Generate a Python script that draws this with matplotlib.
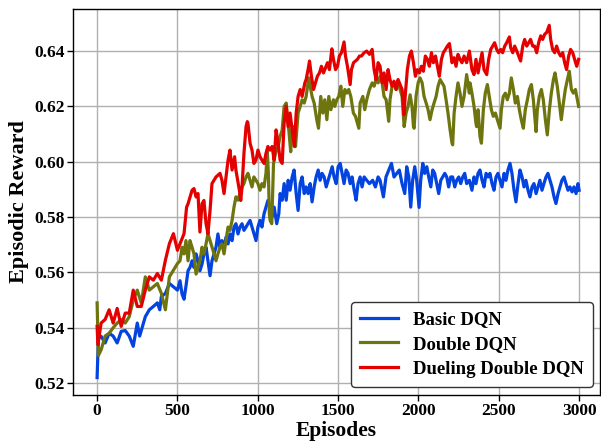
import matplotlib
matplotlib.use("Agg")
import matplotlib.pyplot as plt

# (episode, smoothed episodic reward) for each agent
basic_dqn = [
    (0, .5220), (8, .5360), (25, .5369), (50, .5345), (75, .5380), (100, .5370), (125, .5345),
    (150, .5387), (175, .5390), (200, .5370), (225, .5333), (250, .5417), (265, .5370), (275, .5390),
    (300, .5440), (325, .5465), (350, .5477), (375, .5490), (390, .5465), (400, .5513), (425, .5524),
    (450, .5560), (475, .5548), (500, .5536),
    (516, .5570), (529, .5521), (541, .5503), (553, .5550), (566, .5606), (578, .5618), (591, .5642),
    (603, .5618), (616, .5667), (628, .5642), (640, .5606), (653, .5630), (665, .5667), (678, .5691),
    (690, .5642), (703, .5588), (715, .5642), (728, .5667), (740, .5691), (752, .5739), (765, .5691),
    (777, .5715), (790, .5691), (802, .5727), (815, .5703), (827, .5739), (840, .5715), (852, .5764),
    (864, .5776), (877, .5739), (889, .5764), (902, .5776), (914, .5752), (927, .5764), (939, .5776),
    (952, .5788), (964, .5764), (976, .5739), (989, .5715), (1001, .5764), (1014, .5788), (1026, .5764),
    (1039, .5812), (1051, .5836), (1063, .5860),
    (1077, .5836), (1089, .5800), (1102, .5836), (1118, .5776), (1131, .5812), (1139, .5885),
    (1152, .5861), (1164, .5921), (1177, .5861), (1189, .5933), (1201, .5897), (1214, .5945),
    (1226, .5970), (1239, .5885), (1251, .5824), (1264, .5921), (1276, .5945), (1289, .5885),
    (1301, .5909), (1313, .5885), (1326, .5921), (1338, .5855), (1351, .5909), (1363, .5945),
    (1376, .5970), (1388, .5933), (1400, .5958), (1413, .5945), (1426, .5909), (1438, .5933),
    (1450, .5958), (1463, .5982), (1475, .5945), (1488, .5921), (1500, .5982), (1513, .5994),
    (1525, .5958), (1537, .5921), (1550, .5970), (1562, .5958), (1575, .5921), (1587, .5945),
    (1600, .5897), (1612, .5861), (1624, .5921), (1637, .5945), (1649, .5909), (1662, .5945),
    (1678, .5933), (1695, .5921),
    (1715, .5933), (1732, .5909), (1749, .5945), (1761, .5933), (1782, .5873), (1798, .5945),
    (1815, .5970), (1832, .5994), (1848, .5945), (1865, .5958), (1881, .5970), (1898, .5921),
    (1915, .5885), (1927, .5982), (1940, .5945), (1952, .5836), (1964, .5933), (1977, .5982),
    (1989, .5933), (2004, .5835), (2014, .5933), (2027, .5994), (2039, .5958), (2052, .5982),
    (2064, .5945), (2077, .5909), (2089, .5970), (2101, .5958), (2114, .5921), (2126, .5885),
    (2139, .5933), (2151, .5945), (2164, .5958), (2176, .5945), (2188, .5909), (2201, .5945),
    (2213, .5945), (2226, .5909), (2238, .5933), (2251, .5945), (2263, .5921), (2276, .5945),
    (2288, .5958), (2300, .5921), (2317, .5933),
    (2333, .5897), (2346, .5945), (2358, .5921), (2371, .5958), (2383, .5970), (2396, .5933),
    (2408, .5909), (2421, .5958), (2433, .5945), (2445, .5958), (2458, .5921), (2470, .5897),
    (2483, .5945), (2495, .5958), (2508, .5933), (2520, .5909), (2533, .5958), (2545, .5933),
    (2557, .5970), (2570, .5994), (2582, .5958), (2595, .5897), (2607, .5855), (2620, .5921),
    (2632, .5970), (2645, .5945), (2657, .5909), (2669, .5933), (2682, .5897), (2694, .5873),
    (2707, .5909), (2719, .5921), (2732, .5885), (2744, .5909), (2756, .5933), (2769, .5897),
    (2781, .5921), (2794, .5945), (2806, .5958), (2819, .5933), (2831, .5909), (2844, .5873),
    (2856, .5849), (2869, .5885), (2881, .5909), (2893, .5933), (2906, .5945), (2918, .5921),
    (2931, .5897), (2943, .5909), (2956, .5891), (2968, .5909), (2981, .5885), (2993, .5921),
    (3000, .5897),
]

double_dqn = [
    (0, .5490), (8, .5300), (25, .5320), (50, .5370), (75, .5380), (100, .5400), (125, .5417),
    (150, .5430), (175, .5417), (200, .5440), (225, .5500), (250, .5536), (275, .5489), (300, .5584),
    (325, .5536), (350, .5548), (375, .5560), (400, .5524), (425, .5465), (450, .5584), (475, .5608),
    (500, .5632),
    (516, .5642), (529, .5691), (541, .5667), (553, .5715), (566, .5642), (578, .5715), (591, .5691),
    (603, .5667), (616, .5594), (628, .5618), (640, .5642), (653, .5691), (665, .5667), (678, .5703),
    (690, .5740), (703, .5715), (715, .5691), (728, .5667), (740, .5642), (752, .5667), (765, .5691),
    (777, .5703), (790, .5667), (802, .5715), (815, .5764), (827, .5752), (840, .5788), (852, .5836),
    (864, .5873), (877, .5861), (889, .5885), (902, .5909), (914, .5921), (927, .5945), (939, .5958),
    (952, .5933), (964, .5909), (976, .5945), (989, .5933), (1001, .5921), (1014, .5897), (1026, .5921),
    (1039, .5909), (1051, .5958), (1059, .6042), (1066, .5958), (1072, .5812),
    (1077, .5788), (1087, .5776), (1098, .5994), (1110, .6030), (1127, .6055), (1139, .6091),
    (1152, .6115), (1164, .6200), (1177, .6212), (1193, .6115), (1205, .6036), (1214, .6127),
    (1226, .6127), (1235, .6055), (1251, .6176), (1264, .6200), (1276, .6224), (1289, .6212),
    (1301, .6236), (1317, .6303), (1326, .6273), (1338, .6236), (1351, .6212), (1367, .6152),
    (1378, .6121), (1392, .6236), (1405, .6176), (1417, .6224), (1430, .6152), (1442, .6236),
    (1455, .6188), (1471, .6224), (1479, .6200), (1492, .6224), (1504, .6236), (1517, .6273),
    (1529, .6200), (1542, .6261), (1554, .6248), (1566, .6261), (1579, .6236), (1595, .6176),
    (1608, .6164), (1620, .6140), (1629, .6121), (1637, .6212), (1654, .6236), (1666, .6188),
    (1678, .6224), (1695, .6261),
    (1712, .6285), (1724, .6273), (1736, .6297), (1749, .6285), (1761, .6309), (1774, .6285),
    (1786, .6236), (1799, .6224), (1815, .6146), (1823, .6224), (1836, .6273), (1848, .6285),
    (1861, .6261), (1873, .6285), (1886, .6261), (1898, .6236), (1911, .6127), (1923, .6176),
    (1935, .6200), (1948, .6242), (1960, .6200), (1969, .6127), (1973, .6121), (1985, .6236),
    (1998, .6285), (2010, .6303), (2023, .6285), (2035, .6236), (2048, .6212), (2060, .6188),
    (2072, .6152), (2085, .6188), (2097, .6212), (2110, .6236), (2122, .6273), (2135, .6297),
    (2147, .6285), (2159, .6273), (2172, .6224), (2184, .6176), (2197, .6115), (2209, .6067),
    (2213, .6061), (2222, .6176), (2234, .6236), (2246, .6285), (2259, .6248), (2271, .6200),
    (2284, .6236), (2300, .6315), (2317, .6248),
    (2321, .6285), (2333, .6248), (2346, .6200), (2358, .6139), (2362, .6127), (2371, .6188),
    (2383, .6091), (2392, .6067), (2404, .6188), (2416, .6248), (2429, .6279), (2441, .6236),
    (2454, .6188), (2466, .6164), (2479, .6176), (2491, .6152), (2508, .6121), (2516, .6188),
    (2528, .6236), (2541, .6248), (2553, .6224), (2566, .6248), (2578, .6303), (2591, .6261),
    (2603, .6212), (2616, .6236), (2628, .6188), (2640, .6152), (2653, .6121), (2665, .6188),
    (2678, .6224), (2690, .6261), (2703, .6279), (2715, .6224), (2732, .6109), (2740, .6188),
    (2752, .6236), (2765, .6261), (2777, .6224), (2790, .6152), (2802, .6097), (2815, .6188),
    (2827, .6248), (2840, .6297), (2850, .6321), (2864, .6273), (2877, .6212), (2889, .6152),
    (2902, .6212), (2914, .6261), (2927, .6297), (2939, .6327), (2952, .6261), (2964, .6248),
    (2977, .6261), (2989, .6224), (2997, .6200),
]

dueling_double_dqn = [
    (0, .5405), (5, .5339), (25, .5417), (50, .5430), (75, .5465), (100, .5417), (125, .5470),
    (150, .5405), (175, .5453), (200, .5453), (225, .5536), (250, .5477), (275, .5477), (300, .5536),
    (325, .5584), (350, .5572), (375, .5596), (400, .5572), (425, .5644), (450, .5704), (475, .5740),
    (500, .5680),
    (516, .5703), (541, .5740), (557, .5836), (566, .5848), (591, .5897), (603, .5903), (616, .5873),
    (628, .5885), (640, .5746), (653, .5848), (665, .5860), (678, .5776), (690, .5740), (703, .5824),
    (715, .5921), (740, .5945), (765, .5958), (777, .5933), (790, .5885), (815, .6006), (827, .6042),
    (840, .5970), (856, .6018), (864, .5970), (889, .5885), (894, .5860), (902, .5909), (914, .6030),
    (927, .6127), (935, .6145), (939, .6139), (952, .6067), (964, .6042), (976, .5994), (989, .6006),
    (1001, .6042), (1014, .6018), (1026, .6006), (1039, .5994), (1051, .6030), (1063, .6055),
    (1077, .6042), (1089, .6055), (1102, .6006), (1114, .6115), (1127, .6067), (1139, .6006),
    (1152, .5994), (1164, .6139), (1177, .6200), (1189, .6127), (1201, .6176), (1214, .6115),
    (1228, .6055), (1239, .6176), (1251, .6236), (1264, .6261), (1276, .6236), (1293, .6285),
    (1301, .6297), (1313, .6333), (1322, .6364), (1334, .6309), (1347, .6261), (1359, .6285),
    (1371, .6309), (1384, .6321), (1396, .6345), (1409, .6321), (1421, .6339), (1434, .6358),
    (1446, .6333), (1461, .6408), (1471, .6370), (1484, .6333), (1496, .6345), (1508, .6382),
    (1521, .6394), (1537, .6433), (1546, .6382), (1558, .6345), (1575, .6279), (1583, .6333),
    (1596, .6358), (1608, .6364), (1620, .6370), (1633, .6382), (1645, .6382), (1662, .6394),
    (1678, .6400), (1695, .6388),
    (1712, .6406), (1724, .6333), (1736, .6297), (1749, .6358), (1761, .6345), (1774, .6285),
    (1786, .6321), (1799, .6261), (1811, .6333), (1823, .6297), (1836, .6273), (1848, .6291),
    (1861, .6261), (1873, .6297), (1886, .6279), (1898, .6261), (1910, .6170), (1919, .6249),
    (1931, .6333), (1944, .6382), (1956, .6400), (1969, .6358), (1981, .6309), (1993, .6333),
    (2006, .6321), (2018, .6345), (2031, .6327), (2043, .6382), (2056, .6370), (2068, .6345),
    (2081, .6394), (2093, .6358), (2106, .6382), (2118, .6345), (2130, .6309), (2143, .6370),
    (2155, .6394), (2168, .6406), (2180, .6418), (2193, .6427), (2209, .6358), (2222, .6376),
    (2234, .6345), (2246, .6388), (2259, .6370), (2271, .6358), (2284, .6382), (2300, .6358),
    (2317, .6400),
    (2333, .6333), (2346, .6315), (2358, .6370), (2371, .6321), (2383, .6358), (2396, .6394),
    (2408, .6333), (2425, .6315), (2437, .6370), (2450, .6406), (2462, .6418), (2474, .6430),
    (2487, .6406), (2499, .6394), (2512, .6406), (2524, .6394), (2537, .6418), (2549, .6430),
    (2566, .6451), (2574, .6412), (2587, .6394), (2599, .6418), (2612, .6400), (2624, .6382),
    (2636, .6364), (2649, .6418), (2661, .6442), (2674, .6418), (2686, .6430), (2698, .6442),
    (2711, .6418), (2723, .6418), (2736, .6394), (2748, .6430), (2761, .6455), (2773, .6442),
    (2786, .6461), (2798, .6467), (2814, .6493), (2823, .6442), (2835, .6406), (2848, .6394),
    (2860, .6418), (2873, .6394), (2885, .6382), (2898, .6394), (2910, .6358), (2922, .6333),
    (2935, .6382), (2947, .6406), (2960, .6394), (2972, .6370), (2985, .6345), (2997, .6370),
]

series_names = ["Basic DQN", "Double DQN", "Dueling Double DQN"]
series_colors = ["#0343df", "#6e750e", "#e50000"]
x_ticks = [0, 500, 1000, 1500, 2000, 2500, 3000]
y_ticks = [0.52, 0.54, 0.56, 0.58, 0.60, 0.62, 0.64]

plt.rcParams["font.family"] = ["Liberation Serif", "DejaVu Serif"]
plt.rcParams["font.weight"] = "bold"

fig = plt.figure(figsize=(6.01, 4.44), dpi=100)
ax = fig.add_axes([73 / 601, 49 / 444, 527 / 601, 386 / 444])

for data, name, color in zip([basic_dqn, double_dqn, dueling_double_dqn], series_names, series_colors):
    eps = [p[0] for p in data]
    vals = [p[1] for p in data]
    ax.plot(eps, vals, color=color, lw=2.3, label=name, solid_joinstyle="round")

ax.set_xlim(-150, 3130)
ax.set_ylim(0.5157, 0.6552)
ax.set_xticks(x_ticks)
ax.set_xticklabels([str(t) for t in x_ticks])
ax.set_yticks(y_ticks)
ax.set_yticklabels([f"{t:.2f}" for t in y_ticks])
ax.tick_params(axis="both", labelsize=12.5, direction="out", length=4, width=1, pad=2)
for lab in ax.get_xticklabels() + ax.get_yticklabels():
    lab.set_fontweight("bold")

ax.grid(True, color="#b0b0b0", lw=1.0)
ax.set_axisbelow(True)
for sp in ax.spines.values():
    sp.set_color("black")
    sp.set_linewidth(1.0)

ax.set_xlabel("Episodes", fontsize=15.5, fontweight="bold", labelpad=1)
ax.set_ylabel("Episodic Reward", fontsize=16, fontweight="bold", labelpad=4)

leg = ax.legend(loc="lower right", bbox_to_anchor=(0.987, 0.021), borderaxespad=0,
                prop={"size": 13.5, "weight": "bold"}, framealpha=1, fancybox=True,
                handlelength=2.0, handletextpad=0.8, labelspacing=0.4, borderpad=0.5)
leg.get_frame().set_edgecolor("#333333")
leg.get_frame().set_linewidth(1.0)

fig.savefig("out.png", dpi=100)
